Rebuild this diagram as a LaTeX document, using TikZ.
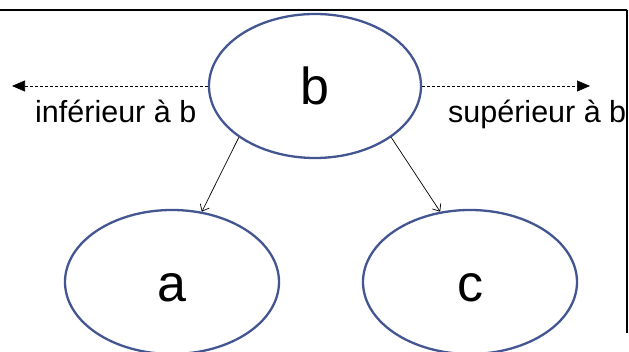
\documentclass[tikz,border=0pt]{standalone}
\usepackage{fontspec}
\setmainfont{Liberation Sans}
\usetikzlibrary{shapes.geometric,arrows.meta}
\definecolor{ellblue}{RGB}{68,86,146}
\tikzset{
  ell/.style={ellipse,draw=ellblue,line width=2.3pt,inner sep=0pt,
    minimum width=#1,minimum height=144pt,font=\fontsize{52}{60}\selectfont},
  lbl/.style={inner sep=0pt,anchor=base west,font=\fontsize{30.5}{36}\selectfont},
  conn/.style={line width=0.7pt,-{Straight Barb[length=6pt,width=10pt]}},
  dconn/.style={line width=0.7pt,dash pattern=on 3pt off 2pt,-{Triangle[length=13pt,width=11pt]}},
  frame/.style={line width=2.2pt}
}
\begin{document}
\begin{tikzpicture}[x=1pt,y=1pt]
\useasboundingbox (0,0) rectangle (629,352);
\coordinate (tl) at (0,342);
\coordinate (tr) at (627,342);
\coordinate (br) at (627,19);
\draw[frame] (tl) -- (tr);
\draw[line width=1.6pt] (tr) -- (br);
\node[ell=212pt] (b) at (315,266) {b};
\node[ell=214pt,label={[font=\fontsize{52}{60}\selectfont,yshift=-6pt]center:a}] (a) at (172,70) {};
\node[ell=214pt,label={[font=\fontsize{52}{60}\selectfont,yshift=-6pt]center:c}] (c) at (470,70) {};
\coordinate (lend) at (12,266);
\coordinate (rend) at (590,266);
\draw[dconn] (b.west) -- (lend);
\draw[dconn] (b.east) -- (rend);
\node[lbl] (linf) at (35,229) {inférieur à b};
\node[lbl] (lsup) at (448,229) {supérieur à b};
\draw[conn] (b.214) -- (a.67);
\draw[conn] (b.326) -- (c.113);
\end{tikzpicture}
\end{document}
